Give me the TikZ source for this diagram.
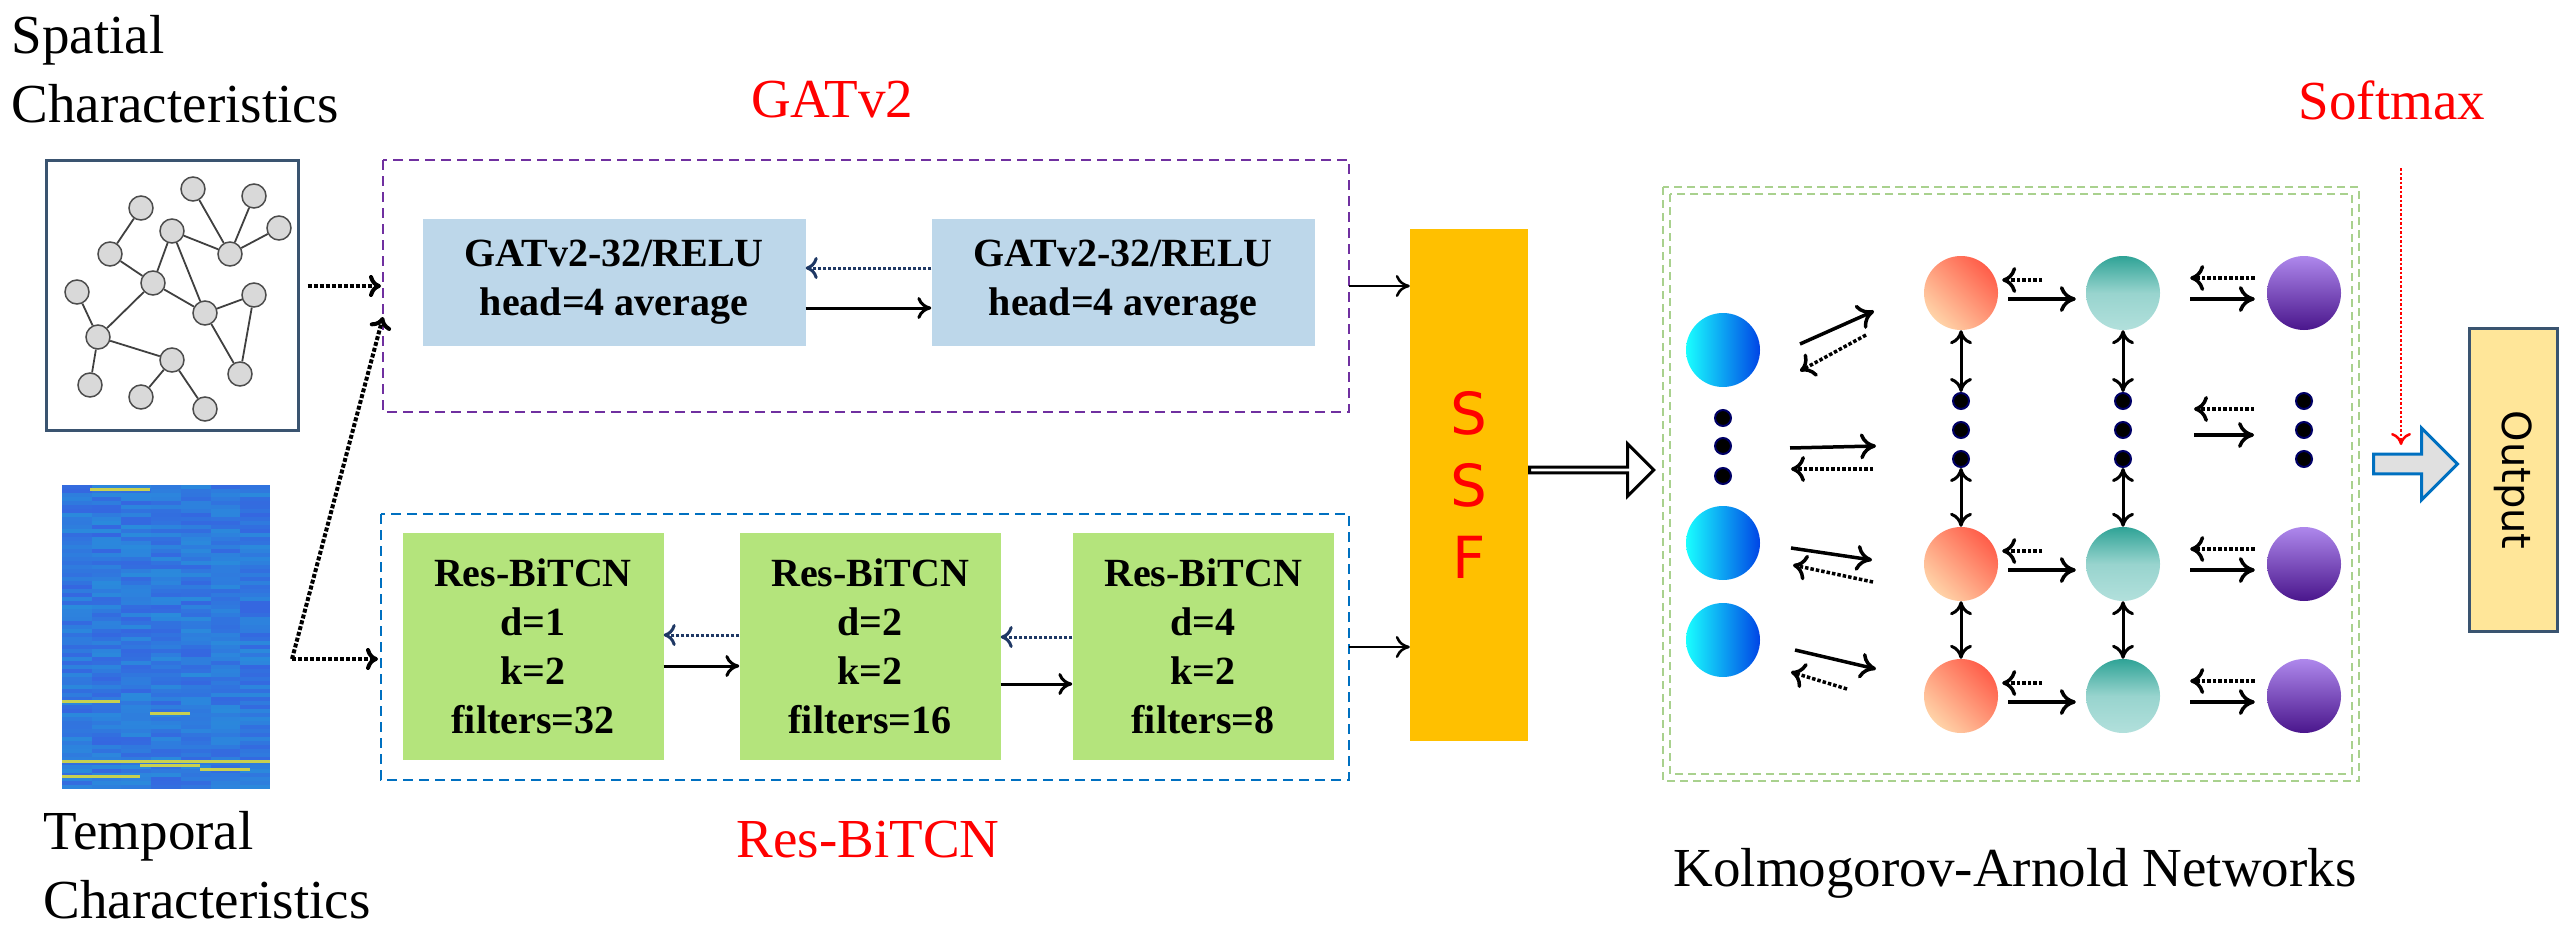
\documentclass[tikz,border=0pt]{standalone}
\usepackage{fontspec}
\setmainfont{Liberation Serif}
\newfontfamily\sansfam{DejaVu Sans}
\usepackage{xcolor}
\usetikzlibrary{calc}
\usetikzlibrary{arrows.meta}
\usetikzlibrary{shapes.arrows}

\definecolor{gatblue}{HTML}{BDD7EA}
\definecolor{tcngreen}{HTML}{B4E47C}
\definecolor{ssfgold}{HTML}{FFC000}
\definecolor{gatpurple}{HTML}{7030A0}
\definecolor{tcnblue}{HTML}{0070C0}
\definecolor{kangreen}{HTML}{A9D18E}
\definecolor{navy}{HTML}{1F3864}
\definecolor{outyellow}{HTML}{FFE699}
\definecolor{outframe}{HTML}{3A5470}
\definecolor{hmblue}{HTML}{3566E0}
\definecolor{hmcyan}{HTML}{1FB0D8}
\definecolor{hmyellow}{HTML}{C8D050}
\definecolor{peach}{HTML}{FFD3A8}
\definecolor{tomato}{HTML}{FF5E4A}
\definecolor{tealtop}{HTML}{2FA396}
\definecolor{tealbot}{HTML}{B2E0DC}
\definecolor{violtop}{HTML}{AE88EC}
\definecolor{violbot}{HTML}{4A168C}

\tikzset{
  gnode/.style={circle,draw=black!70,fill=black!15,line width=1.5pt,minimum size=24pt,inner sep=0pt},
  gedge/.style={line width=1.8pt,black!75},
  gatbox/.style={fill=gatblue,minimum width=383pt,minimum height=127pt,align=center,
    font=\rmfamily\fontsize{40}{49}\selectfont\bfseries},
  tcnbox/.style={fill=tcngreen,minimum width=261pt,minimum height=227pt,align=center,
    font=\rmfamily\fontsize{40}{49}\selectfont\bfseries},
  bigtxt/.style={font=\rmfamily\fontsize{55}{69}\selectfont,align=left},
  redtxt/.style={font=\rmfamily\fontsize{55}{69}\selectfont,text=red},
  solidar/.style={line width=3pt,-{To[length=14pt,width=22pt]}},
  dotar/.style={line width=3pt,dotted,navy,-{To[length=12pt,width=22pt]}},
  inpdot/.style={line width=4pt,dotted,-{To[length=12pt,width=22pt]}},
  kar/.style={line width=3.5pt,-{To[length=16pt,width=26pt]}},
  kdot/.style={line width=3.5pt,dotted,-{To[length=14pt,width=26pt]}},
  kvert/.style={line width=3pt,{To[length=14pt,width=22pt]}-{To[length=14pt,width=22pt]}},
  kdotnode/.style={circle,fill=black,draw=black!60!blue,line width=2pt,minimum size=16pt,inner sep=0pt},
  neu/.style={circle,minimum size=74pt,inner sep=0pt},
}

\begin{document}
\begin{tikzpicture}[x=1pt,y=-1pt]
\useasboundingbox (0,0) rectangle (2569,939);

% input captions
\node[bigtxt,anchor=north west] (spatxt) at (8,12) {Spatial\\Characteristics};
\node[bigtxt,anchor=north west] (temtxt) at (40,808) {Temporal\\Characteristics};

% spatial graph
\node[draw=outframe,line width=3pt,minimum width=252pt,minimum height=270pt,inner sep=0pt]
  (gbox) at (172,295) {};
\foreach \n/\x/\y in {1/193/189,2/254/196,3/141/208,4/279/228,5/172/231,6/110/254,
  7/230/254,8/153/283,9/77/292,10/254/295,11/205/313,12/98/337,13/172/360,
  14/240/374,15/90/385,16/141/397,17/205/409}
  \node[gnode] (g\n) at (\x,\y) {};
\foreach \a/\b in {1/7,2/7,4/7,3/6,5/7,5/8,5/11,6/8,8/11,8/12,9/12,10/11,10/14,
  11/14,12/13,12/15,13/16,13/17}
  \draw[gedge] (g\a) -- (g\b);

% temporal heat map
\pgfmathsetseed{7}
\foreach \r in {0,...,75}{
  \foreach \c in {0,...,6}{
    \pgfmathsetmacro{\mixv}{50+rnd*50}
    \fill[hmblue!\mixv!hmcyan] (62+\c*29.7,485+\r*4) rectangle ++(29.8,4.1);
  }
}
\foreach \yy/\xa/\xb in {488/90/150,700/62/120,712/150/190,760/62/270,764/140/200,
  768/200/250,775/62/140}
  \fill[hmyellow] (\xa,\yy) rectangle (\xb,\yy+2.5);
\node[minimum width=208pt,minimum height=304pt,inner sep=0pt] (hmap) at (166,637) {};

% GATv2 branch
\node[redtxt] (gatlbl) at (832,100) {GATv2};
\draw[gatpurple,line width=2.5pt,dash pattern=on 10pt off 6pt] (383,160) rectangle (1349,412);
\coordinate (gatin) at (381,286);
\coordinate (gatout) at (1349,286);
\node[gatbox] (gat1) at (614,282) {GATv2-32/RELU\\head=4 average};
\node[gatbox] (gat2) at (1123,282) {GATv2-32/RELU\\head=4 average};
\draw[dotar] ([yshift=14pt]gat2.west) -- ([yshift=14pt]gat1.east);
\draw[solidar,black] ([yshift=-26pt]gat1.east) -- ([yshift=-26pt]gat2.west);

% Res-BiTCN branch
\node[redtxt] (tcnlbl) at (868,840) {Res-BiTCN};
\draw[tcnblue,line width=2.5pt,dash pattern=on 10pt off 6pt] (381,514) rectangle (1349,780);
\coordinate (tcnin) at (378,659);
\coordinate (tcnout) at (1349,647);
\node[tcnbox] (tcn1) at (533,646) {Res-BiTCN\\d=1\\k=2\\filters=32};
\node[tcnbox] (tcn2) at (870,646) {Res-BiTCN\\d=2\\k=2\\filters=16};
\node[tcnbox] (tcn3) at (1203,646) {Res-BiTCN\\d=4\\k=2\\filters=8};
\draw[dotar] ([yshift=11pt]tcn2.west) -- ([yshift=11pt]tcn1.east);
\draw[solidar] ([yshift=-20pt]tcn1.east) -- ([yshift=-20pt]tcn2.west);
\draw[dotar] ([yshift=9pt]tcn3.west) -- ([yshift=9pt]tcn2.east);
\draw[solidar] ([yshift=-38pt]tcn2.east) -- ([yshift=-38pt]tcn3.west);

% inputs into the branches
\coordinate (hmcorner) at (292,659);
\draw[inpdot] (gbox.east |- gatin) ++(8,0) coordinate (gsrc) -- (gatin);
\draw[inpdot] (hmcorner) -- (383,317);
\draw[inpdot] (hmcorner) -- (tcnin);

% fusion
\node[fill=ssfgold,minimum width=118pt,minimum height=512pt,inner sep=0pt,
  font=\sansfam\fontsize{58}{68}\selectfont,text=red,align=center] (ssf) at (1469,485)
  {S\\[4pt]S\\[4pt]F};
\draw[solidar,line width=2.5pt] (gatout) -- (gatout -| ssf.west);
\draw[solidar,line width=2.5pt] (tcnout) -- (tcnout -| ssf.west);
\node[single arrow,draw=black,fill=white,line width=3pt,minimum height=124pt,
  minimum width=52pt,single arrow head extend=12pt,inner sep=0pt,anchor=tail]
  (fuse) at (ssf.east |- 0,470) {};

% Kolmogorov-Arnold network
\draw[kangreen,line width=2.5pt,dash pattern=on 8pt off 5pt] (1663,187) rectangle (2359,781);
\draw[kangreen,line width=2.5pt,dash pattern=on 8pt off 5pt] (1670,194) rectangle (2352,774);
\node[font=\rmfamily\fontsize{55}{66}\selectfont] (kanlbl) at (2015,873) {Kolmogorov-Arnold Networks};

\foreach \i/\y in {a/350,b/543,c/640}
  \node[neu,left color=cyan!90!white,right color=blue!70!cyan!90!black] (in\i) at (1723,\y) {};
\foreach \j/\y in {a/293,b/564,c/696}{
  \node[neu,top color=peach,bottom color=tomato,shading angle=135] (ha\j) at (1961,\y) {};
  \node[neu,top color=tealtop,bottom color=tealbot,middle color=tealbot!80!tealtop] (hb\j) at (2123,\y) {};
  \node[neu,top color=violtop,bottom color=violbot] (ho\j) at (2304,\y) {};
}
\foreach \y in {418,446,476} \node[kdotnode] (idot\y) at (1723,\y) {};
\foreach \y in {401,430,459}{
  \node[kdotnode] (adot\y) at (1961,\y) {};
  \node[kdotnode] (bdot\y) at (2123,\y) {};
  \node[kdotnode] (odot\y) at (2304,\y) {};
}

% input to first layer
\draw[kar] (1800,344) -- (1874,311);
\draw[kdot] (1866,335) -- (1800,371);
\draw[kar] (1790,448) -- (1876,446);
\draw[kdot] (1873,469) -- (1791,469);
\draw[kar] (1791,548) -- (1872,560);
\draw[kdot] (1873,582) -- (1793,565);
\draw[kar] (1795,650) -- (1876,669);
\draw[kdot] (1847,689) -- (1791,672);

% between layers
\foreach \j in {a,b,c}{
  \draw[kdot] ([yshift=13pt,xshift=44pt]ha\j.east) -- ([yshift=13pt,xshift=4pt]ha\j.east);
  \draw[kar] ([yshift=-6pt,xshift=10pt]ha\j.east) -- ([yshift=-6pt,xshift=-10pt]hb\j.west);
  \draw[kdot] ([yshift=15pt,xshift=-12pt]ho\j.west) -- ([yshift=15pt,xshift=30pt]hb\j.east);
  \draw[kar] ([yshift=-6pt,xshift=30pt]hb\j.east) -- ([yshift=-6pt,xshift=-12pt]ho\j.west);
}
\draw[kdot] (2254,409) -- (2194,409);
\draw[kar] (2194,435) -- (2254,435);
\foreach \c in {a,b}{
  \draw[kvert] (h\c a.south) -- (\c dot401.north);
  \draw[kvert] (\c dot459.south) -- (h\c b.north);
  \draw[kvert] (h\c b.south) -- (h\c c.north);
}

% output
\node[redtxt] (smlbl) at (2392,100) {Softmax};
\node[single arrow,draw=tcnblue,fill=black!12,line width=3pt,minimum height=84pt,
  minimum width=72pt,single arrow head extend=4pt,inner sep=0pt,anchor=tail]
  (outar) at (2372,464) {};
\coordinate (smtop) at (2401,168);
\draw[red,line width=2.5pt,dotted,-{To[length=12pt,width=20pt]}] (smtop) -- (smtop |- 0,445);
\node[draw=outframe,fill=outyellow,line width=3pt,minimum width=88pt,minimum height=303pt,
  inner sep=0pt] (outbox) at (2513,480) {};
\node[rotate=-90,font=\sansfam\fontsize{40}{48}\selectfont] (outtxt) at (outbox.center) {Output};
\end{tikzpicture}
\end{document}
